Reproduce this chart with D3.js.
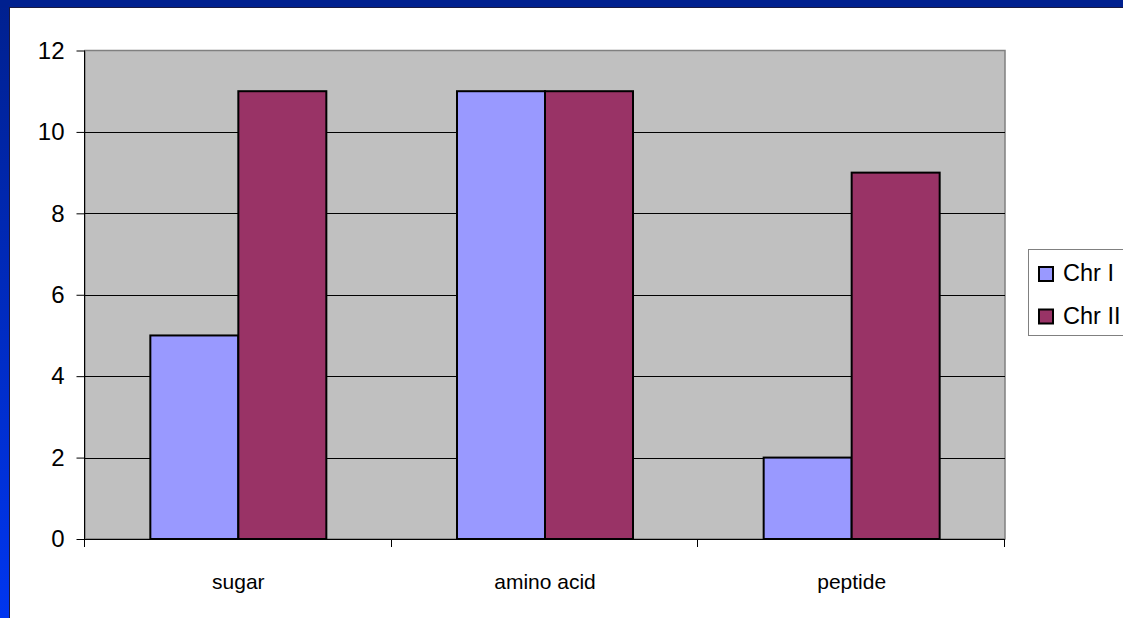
<!DOCTYPE html>
<html><head><meta charset="utf-8">
<script src="https://cdn.jsdelivr.net/npm/d3@7"></script>
<style>html,body{margin:0;padding:0;background:#fff;}svg{display:block;}</style>
</head><body>
<script>
const categories = ["sugar", "amino acid", "peptide"];
const seriesNames = ["Chr I", "Chr II"];
const chrI = [5, 11, 2];
const chrII = [11, 11, 9];
const yTicks = [0, 2, 4, 6, 8, 10, 12];
const colors = ["#9999ff", "#993366"];

const W = 1123, H = 618;
const FONT = "Liberation Sans, Arial, sans-serif";
const svg = d3.select("body").append("svg").attr("width", W).attr("height", H);

// slide frame
const defs = svg.append("defs");
const lg = defs.append("linearGradient").attr("id", "lb").attr("x1", 0).attr("y1", 0).attr("x2", 0).attr("y2", 1);
lg.append("stop").attr("offset", "0%").attr("stop-color", "#00208f");
lg.append("stop").attr("offset", "100%").attr("stop-color", "#0036f0");
svg.append("rect").attr("x", 0).attr("y", 0).attr("width", W).attr("height", H).attr("fill", "url(#lb)");
svg.append("rect").attr("x", 0).attr("y", 0).attr("width", W).attr("height", 7).attr("fill", "#00208f");
svg.append("rect").attr("x", 9).attr("y", 7).attr("width", W - 9).attr("height", H - 7).attr("fill", "#1a1a40");
svg.append("rect").attr("x", 10).attr("y", 8).attr("width", W - 10).attr("height", H - 8).attr("fill", "#ffffff");

const plot = {left: 85, right: 1005, top: 50.5, bottom: 539};
const x = d3.scaleBand().domain(categories).range([plot.left, plot.right]);
const y = d3.scaleLinear().domain([0, 12]).range([plot.bottom, plot.top]);

// plot area
svg.append("rect").attr("x", plot.left).attr("y", plot.top).attr("width", plot.right - plot.left)
  .attr("height", plot.bottom - plot.top).attr("fill", "#c0c0c0").attr("stroke", "#808080").attr("stroke-width", 1.5);

// gridlines
svg.append("g").selectAll("line").data(yTicks.filter(d => d > 0 && d < 12)).join("line")
  .attr("x1", plot.left).attr("x2", plot.right)
  .attr("y1", d => Math.round(y(d)) + 0.5).attr("y2", d => Math.round(y(d)) + 0.5)
  .attr("stroke", "#000").attr("stroke-width", 1);

// bars
const barW = 88;
const groupOff = (x.bandwidth() - 2 * barW) / 2;
const data = [];
categories.forEach((c, i) => {
  data.push({c, s: 0, v: chrI[i]});
  data.push({c, s: 1, v: chrII[i]});
});
svg.append("g").selectAll("rect").data(data).join("rect")
  .attr("x", d => x(d.c) + groupOff + d.s * barW)
  .attr("y", d => y(d.v))
  .attr("width", barW)
  .attr("height", d => y(0) - y(d.v))
  .attr("fill", d => colors[d.s])
  .attr("stroke", "#000").attr("stroke-width", 2);

// y axis
const yAxis = svg.append("g").attr("transform", `translate(${plot.left - 0.5},0)`)
  .call(d3.axisLeft(y).tickValues(yTicks).tickSize(8).tickPadding(12).tickFormat(d3.format("d")));
yAxis.select(".domain").attr("stroke", "#000").attr("d", `M0,${plot.top}V${plot.bottom}`);
yAxis.selectAll(".tick line").attr("stroke", "#000");
yAxis.selectAll("text").attr("font-family", FONT).attr("font-size", 24).attr("fill", "#000");

// x axis
const xAxis = svg.append("g").attr("transform", `translate(0,${plot.bottom})`)
  .call(d3.axisBottom(x).tickSize(0));
xAxis.select(".domain").attr("stroke", "#000").attr("d", `M${plot.left},0.5H${plot.right}`);
xAxis.selectAll("text").attr("font-family", FONT).attr("font-size", 21).attr("fill", "#000")
  .attr("y", 50).attr("dy", 0);
// category separator ticks
const sepTicks = [plot.left, x(categories[1]), x(categories[2]), plot.right];
svg.append("g").selectAll("line").data(sepTicks).join("line")
  .attr("x1", d => Math.round(d) - 0.5).attr("x2", d => Math.round(d) - 0.5)
  .attr("y1", plot.bottom).attr("y2", plot.bottom + 8).attr("stroke", "#000");

// legend
const leg = svg.append("g");
leg.append("rect").attr("x", 1028.5).attr("y", 249.5).attr("width", 110).attr("height", 86)
  .attr("fill", "#fff").attr("stroke", "#808080").attr("stroke-width", 1);
seriesNames.forEach((n, i) => {
  const yy = 267 + i * 42.5;
  leg.append("rect").attr("x", 1039).attr("y", yy).attr("width", 14).attr("height", 14)
    .attr("fill", colors[i]).attr("stroke", "#000").attr("stroke-width", 2);
  leg.append("text").attr("x", 1063).attr("y", yy + 14).text(n)
    .attr("font-family", FONT).attr("font-size", 23.5).attr("fill", "#000");
});
</script>
</body></html>
